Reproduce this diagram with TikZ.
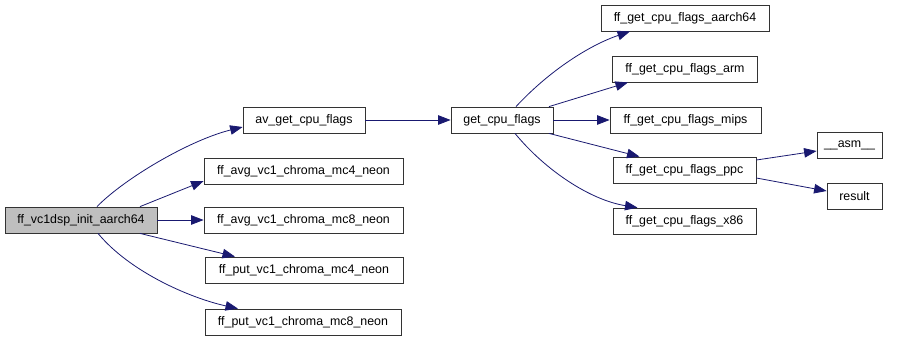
\documentclass[tikz,border=0pt]{standalone}
\usepackage{fontspec}
\setmainfont{Liberation Sans}
\usetikzlibrary{arrows.meta}

\definecolor{edgeblue}{RGB}{25,25,112}

\tikzset{
  every node/.style={draw=black!80,line width=0.8pt,fill=white,minimum height=26pt,
    inner sep=0pt,font=\fontsize{12.4}{14}\selectfont},
  rootfn/.style={fill=black!25},
  call/.style={draw=edgeblue,line width=0.8pt,-{Triangle[length=12.5pt,width=9.5pt]}}
}

\begin{document}
\begin{tikzpicture}[x=1pt,y=-1pt]
      \useasboundingbox (0,0) rectangle (897,341);

      \node [rootfn,minimum width=152pt] (init) at (81,220) {ff\_vc1dsp\_init\_aarch64};
      \node [minimum width=122pt] (avflags) at (304,120) {av\_get\_cpu\_flags};
      \node [minimum width=199pt] (avgfour) at (303.5,171) {ff\_avg\_vc1\_chroma\_mc4\_neon};
      \node [minimum width=199pt] (avgeight) at (303.5,220) {ff\_avg\_vc1\_chroma\_mc8\_neon};
      \node [minimum width=198pt] (putfour) at (304,270) {ff\_put\_vc1\_chroma\_mc4\_neon};
      \node [minimum width=196pt] (puteight) at (303,322) {ff\_put\_vc1\_chroma\_mc8\_neon};
      \node [minimum width=102pt] (getflags) at (502,120) {get\_cpu\_flags};
      \node [minimum width=168pt] (aarch) at (685,18) {ff\_get\_cpu\_flags\_aarch64};
      \node [minimum width=145pt] (arm) at (685,69) {ff\_get\_cpu\_flags\_arm};
      \node [minimum width=151pt] (mips) at (685.5,120) {ff\_get\_cpu\_flags\_mips};
      \node [minimum width=143pt] (ppc) at (684.5,170) {ff\_get\_cpu\_flags\_ppc};
      \node [minimum width=143pt] (x86) at (684.5,221) {ff\_get\_cpu\_flags\_x86};
      \node [minimum width=65pt] (asm) at (849.5,145) {\_\_asm\_\_};
      \node [minimum width=55pt] (result) at (854.5,196) {result};

      % calls out of the init function
      \draw [call] ([xshift=16pt]init.north) .. controls (125,178) and (190,140) .. ([yshift=-7pt]avflags.west);
      \draw [call] ([xshift=59pt]init.north) -- ([yshift=-10pt]avgfour.west);
      \draw [call] (init.east) -- (avgeight.west);
      \draw [call] ([xshift=59pt]init.south) -- ([xshift=-69pt]putfour.north);
      \draw [call] ([xshift=17pt]init.south) .. controls (130,272) and (190,298) .. ([xshift=-65pt]puteight.north);

      % cpu flag lookup
      \draw [call] (avflags.east) -- (getflags.west);
      \draw [call] ([xshift=14pt]getflags.north) .. controls (550,70) and (590,45) .. ([xshift=-55pt]aarch.south);
      \draw [call] ([xshift=47pt]getflags.north) -- ([xshift=-57pt]arm.south);
      \draw [call] (getflags.east) -- (mips.west);
      \draw [call] ([xshift=47pt]getflags.south) -- ([xshift=-45pt]ppc.north);
      \draw [call] ([xshift=13pt]getflags.south) .. controls (545,170) and (590,200) .. ([xshift=-47pt]x86.north);

      \draw [call] ([yshift=10pt]ppc.east) -- ([yshift=-6pt]asm.west);
      \draw [call] ([yshift=-8pt]ppc.east) -- ([yshift=5pt]result.west);
    \end{tikzpicture}
\end{document}
